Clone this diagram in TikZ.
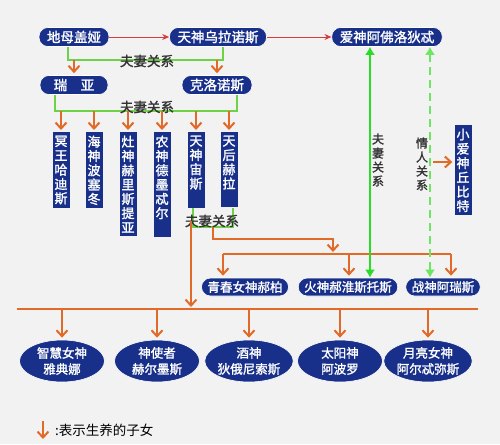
\documentclass[tikz,border=0pt]{standalone}
\usepackage{fontspec}
\setmainfont{Noto Sans CJK SC}[AutoFakeBold=1.6]
\usetikzlibrary{arrows.meta,shapes.geometric}
\definecolor{godblue}{RGB}{24,48,138}
\definecolor{kidorange}{RGB}{226,106,40}
\definecolor{wedgreen}{RGB}{110,210,70}
\definecolor{lovegreen}{RGB}{40,220,40}
\definecolor{affairgreen}{RGB}{110,230,100}
\definecolor{lovered}{RGB}{214,60,60}
\definecolor{paper}{RGB}{242,242,242}

\begin{document}
\begin{tikzpicture}[x=1pt, y=-1pt,
		godbox/.style={fill=godblue, draw=white, line width=0.6pt, text=white, rounded corners=9pt, minimum height=19pt, inner xsep=8pt, inner ysep=0pt, font=\fontsize{13.5}{15}\selectfont\bfseries},
		kidbox/.style={godbox, minimum height=18pt, inner xsep=6pt, font=\fontsize{12.5}{14}\selectfont\bfseries},
		godcol/.style={fill=godblue, text=white, anchor=north, align=center, minimum width=17pt, inner xsep=1pt, inner ysep=3.5pt, font=\fontsize{13}{14.3}\selectfont\bfseries},
		godegg/.style={ellipse, fill=godblue, draw=white, line width=0.6pt, text=white, align=center, minimum width=85pt, minimum height=42pt, inner sep=0pt, font=\fontsize{12.5}{16}\selectfont\bfseries},
		tag/.style={text=black!80, align=center, inner sep=0pt, font=\fontsize{13.5}{14}\selectfont\bfseries},
		wed/.style={draw=wedgreen, line width=1.5pt},
		love/.style={draw=lovegreen, line width=2.4pt, {Latex[length=8pt,width=10pt]}-{Latex[length=8pt,width=10pt]}},
		affair/.style={love, draw=affairgreen, dash pattern=on 8pt off 5pt},
		kid/.style={draw=kidorange, line width=2pt, -{Straight Barb[length=6pt,width=11pt]}, shorten >=2pt},
		kidline/.style={draw=kidorange, line width=1.3pt},
		lineage/.style={draw=lovered, line width=0.8pt, -{Stealth[length=7pt,width=6pt]}}
	]
		\useasboundingbox (0,0) rectangle (500,444);
		\fill[paper] (0,0) rectangle (500,444);

		% first generation
		\node[godbox] (gaia) at (74,37) {地母盖娅};
		\node[godbox] (uranus) at (218,37) {天神乌拉诺斯};
		\node[godbox] (aphrodite) at (387,37) {爱神阿佛洛狄忒};
		\draw[lineage] (gaia) -- (uranus);
		\draw[lineage] (uranus) -- (aphrodite);

		\coordinate (wed1) at (147,60);
		\draw[wed] ([xshift=-6pt]gaia.south) |- (wed1) -| ([xshift=5pt]uranus.south);
		\node[tag] (tag1) at (147,61) {夫妻关系};

		% titans
		\node[godbox, minimum width=68pt] (rhea) at (74,85) {瑞　亚};
		\node[godbox] (cronus) at (217,85) {克洛诺斯};
		\draw[kid] (rhea.north |- wed1) -- (rhea.north);
		\draw[kid] (cronus.north |- wed1) -- (cronus.north);

		\coordinate (wed2) at (147,111);
		\draw[wed] ([xshift=-19pt]rhea.south) |- (wed2) -| ([xshift=20pt]cronus.south);
		\node[tag] (tag2) at (147,107) {夫妻关系};

		% olympians
		\node[godcol] (hades) at (61,132) {冥\\王\\哈\\迪\\斯};
		\node[godcol] (poseidon) at (94,132) {海\\神\\波\\塞\\冬};
		\node[godcol] (hestia) at (128,132) {灶\\神\\赫\\里\\斯\\提\\亚};
		\node[godcol] (demeter) at (162,132) {农\\神\\德\\墨\\忒\\尔\\\phantom{尔}};
		\node[godcol] (zeus) at (196,132) {天\\神\\宙\\斯\\\phantom{斯}};
		\node[godcol] (hera) at (229,132) {天\\后\\赫\\拉\\\phantom{拉}};
		\draw[kid] (hades.north |- wed2) -- (hades.north);
		\draw[kid] (poseidon.north |- wed2) -- (poseidon.north);
		\draw[kid] (hestia.north |- wed2) -- (hestia.north);
		\draw[kid] (demeter.north |- wed2) -- (demeter.north);
		\draw[kid] (zeus.north |- wed2) -- (zeus.north);
		\draw[kid] (hera.north |- wed2) -- (hera.north);

		\coordinate (wed3) at (213,227);
		\draw[wed] ([xshift=-3pt]zeus.south) |- (wed3) -| ([xshift=4pt]hera.south);
		\node[tag] (tag3) at (212,221) {夫妻关系};

		% children of zeus and hera
		\node[kidbox] (hebe) at (245,287) {青春女神郝柏};
		\node[kidbox] (hephaestus) at (348,287) {火神郝淮斯托斯};
		\node[kidbox] (ares) at (443,287) {战神阿瑞斯};
		\node[godcol] (cupid) at (463,125) {小\\爱\\神\\丘\\比\\特};

		\coordinate (fork) at (333,239);
		\coordinate (spread) at (333,254);
		\draw[kid] (wed3) |- (fork) -- (spread);
		\coordinate (hebeIn) at ([xshift=-22pt]hebe.north);
		\coordinate (hephIn) at ([xshift=1pt]hephaestus.north);
		\coordinate (aresIn) at ([xshift=8pt]ares.north);
		\draw[kidline] (hebeIn |- spread) -- (aresIn |- spread);
		\draw[kid] (hebeIn |- spread) -- (hebeIn);
		\draw[kid] (hephIn |- spread) -- (hephIn);
		\draw[kid] (aresIn |- spread) -- (aresIn);

		% aphrodite, husband and lover
		\coordinate (wifeIn) at ([xshift=22pt]hephaestus.north);
		\draw[love] (aphrodite.south -| wifeIn) -- (wifeIn);
		\node[tag, font=\fontsize{12}{14}\selectfont\bfseries] (tag4) at (378,160) {夫\\妻\\关\\系};
		\coordinate (loverIn) at ([xshift=-13pt]ares.north);
		\draw[affair] (aphrodite.south -| loverIn) -- (loverIn);
		\node[tag, font=\fontsize{12}{14}\selectfont\bfseries] (tag5) at (422,164) {情\\人\\关\\系};
		\coordinate (cupidFrom) at (433,162);
		\draw[kid] (cupidFrom) -- (cupidFrom -| cupid.west);

		% children of zeus
		\coordinate (spreadL) at (17,309);
		\coordinate (spreadR) at (478,309);
		\draw[kidline] (spreadL) -- (spreadR);
		\coordinate (zeusOut) at (191,221);
		\draw[kid] (zeusOut) -- (zeusOut |- spreadL);

		\node[godegg] (athena) at (62,361) {智慧女神\\雅典娜};
		\node[godegg] (hermes) at (157,361) {神使者\\赫尔墨斯};
		\node[godegg] (dionysus) at (249,361) {酒神\\狄俄尼索斯};
		\node[godegg] (apollo) at (340,361) {太阳神\\阿波罗};
		\node[godegg] (artemis) at (428,361) {月亮女神\\阿尔忒弥斯};
		\draw[kid] (athena.north |- spreadL) -- (athena.north);
		\draw[kid] (hermes.north |- spreadL) -- (hermes.north);
		\draw[kid] (dionysus.north |- spreadL) -- (dionysus.north);
		\draw[kid] (apollo.north |- spreadL) -- (apollo.north);
		\draw[kid] (artemis.north |- spreadL) -- (artemis.north);

		% key
		\coordinate (keyTop) at (43,421);
		\coordinate (keyEnd) at (43,441);
		\draw[kid] (keyTop) -- (keyEnd);
		\node[anchor=west, inner sep=0pt, font=\fontsize{13.5}{15}\selectfont] (key) at (55,430) {:表示生养的子女};
	\end{tikzpicture}
\end{document}
